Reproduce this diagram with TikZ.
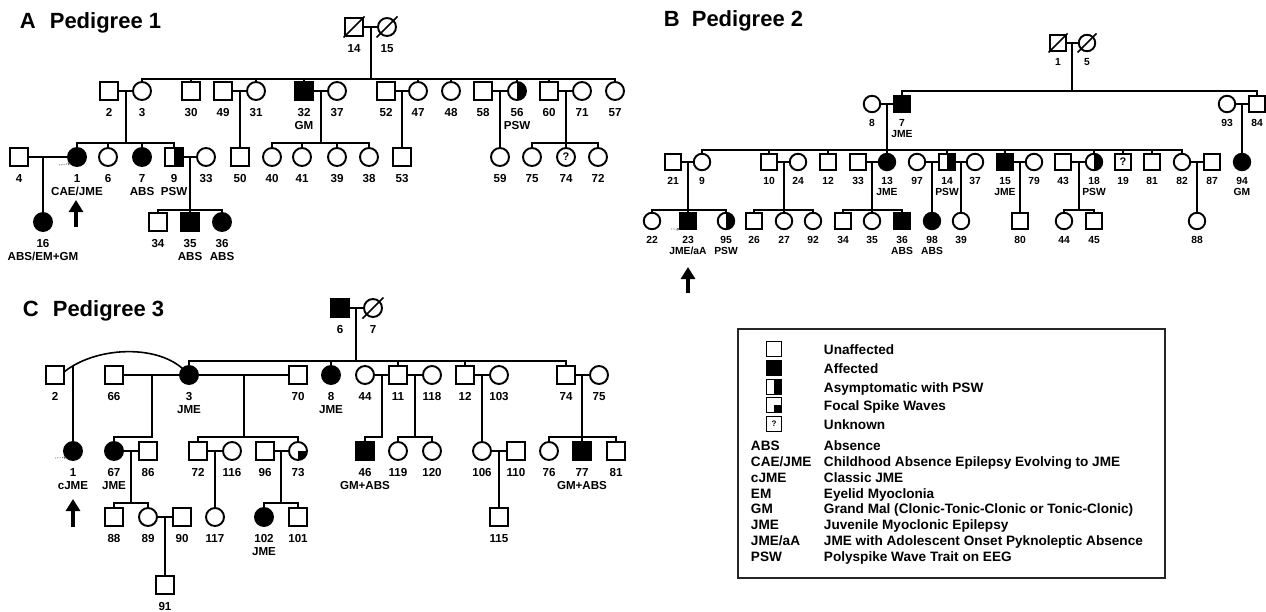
\documentclass[tikz,border=0pt]{standalone}
\usepackage{fontspec}
\setmainfont{Liberation Sans}
\usetikzlibrary{arrows.meta,calc}
\newcommand\symsz{18pt}
\newcommand\labfont{\fontsize{11.6}{13}\selectfont\bfseries}
\begin{document}
\begin{tikzpicture}[x=1pt,y=-1pt,line width=1.9pt,
  ind/.style={draw,line width=1.9pt,minimum size=\symsz,inner sep=0pt,outer sep=0pt,fill=white},
  ma/.style={ind,rectangle},
  fe/.style={ind,circle},
  aff/.style={fill=black},
  halfr/.style={path picture={\fill[black] (path picture bounding box.north) rectangle (path picture bounding box.south east);}},
  qbr/.style={path picture={\fill[black] (path picture bounding box.center) rectangle (path picture bounding box.south east);}},
  lab/.style={font=\labfont,align=center,inner sep=0pt},
  every label/.style={lab},
  dec/.style={line width=1.5pt},
  qm/.style={font=\fontsize{11}{11}\selectfont\bfseries},
  title/.style={anchor=base west,inner sep=0pt,font=\fontsize{22}{22}\selectfont\bfseries},
  prob/.style={line width=3.2pt,-{Triangle[width=14pt,length=12pt]}},
  tinyarr/.style={line width=0.8pt,densely dotted,black!60,-{Stealth[length=3pt,width=3pt]}},
  lsq/.style={ma,minimum size=15pt,line width=1.6pt},
  ltx/.style={anchor=base west,inner sep=0pt,font=\fontsize{13.6}{15}\selectfont\bfseries},
]
\useasboundingbox (0,0) rectangle (1266,611);

%================ PEDIGREE 1 ================
\begin{scope}[label distance=7.5pt]
\node[title] (tA) at (19,28) {A\hspace{14pt}Pedigree 1};
% generation I
\node[ma,label={below:14}] (a14) at (354,27) {};
\node[fe,label={below:15}] (a15) at (387,27) {};
\draw[dec] ([shift={(-10.5,10.5)}]a14.center) -- ([shift={(10.5,-10.5)}]a14.center);
\draw[dec] ([shift={(-10.5,10.5)}]a15.center) -- ([shift={(10.5,-10.5)}]a15.center);
% generation II
\node[ma,label={below:2}] (a2) at (109,91) {};
\node[fe,label={below:3}] (a3) at (142,91) {};
\node[ma,label={below:30}] (a30) at (191,91) {};
\node[ma,label={below:49}] (a49) at (223,91) {};
\node[fe,label={below:31}] (a31) at (256,91) {};
\node[ma,aff,label={below:32\\GM}] (a32) at (304,91) {};
\node[fe,label={below:37}] (a37) at (337,91) {};
\node[ma,label={below:52}] (a52) at (386,91) {};
\node[fe,label={below:47}] (a47) at (418,91) {};
\node[fe,label={below:48}] (a48) at (451,91) {};
\node[ma,label={below:58}] (a58) at (483,91) {};
\node[fe,halfr,label={below:56\\PSW}] (a56) at (517,91) {};
\node[ma,label={below:60}] (a60) at (549,91) {};
\node[fe,label={below:71}] (a71) at (582,91) {};
\node[fe,label={below:57}] (a57) at (615,91) {};
% generation III
\node[ma,label={below:4}] (a4) at (19,157) {};
\node[fe,aff,label={below:1\\CAE/JME}] (a1) at (77,157) {};
\node[fe,label={below:6}] (a6) at (108,157) {};
\node[fe,aff,label={below:7\\ABS}] (a7) at (142,157) {};
\node[ma,halfr,label={below:9\\PSW}] (a9) at (174,157) {};
\node[fe,label={below:33}] (a33) at (206,157) {};
\node[ma,label={below:50}] (a50) at (240,157) {};
\node[fe,label={below:40}] (a40) at (272,157) {};
\node[fe,label={below:41}] (a41) at (302,157) {};
\node[fe,label={below:39}] (a39) at (337,157) {};
\node[fe,label={below:38}] (a38) at (369,157) {};
\node[ma,label={below:53}] (a53) at (402,157) {};
\node[fe,label={below:59}] (a59) at (500,157) {};
\node[fe,label={below:75}] (a75) at (532,157) {};
\node[fe,qm,label={below:74}] (a74) at (566,157) {?};
\node[fe,label={below:72}] (a72) at (598,157) {};
% generation IV
\node[fe,aff,label={below:16\\ABS/EM+GM}] (a16) at (43,222) {};
\node[ma,label={below:34}] (a34) at (158,222) {};
\node[ma,aff,label={below:35\\ABS}] (a35) at (190,222) {};
\node[fe,aff,label={below:36\\ABS}] (a36) at (222,222) {};
% connectors
\draw (a14) -- (a15);
\coordinate (am1) at (371,27);
\coordinate (as1) at (371,79);
\draw (am1) -- (as1);
\draw (a3.north) |- (as1) -| (a57.north);
\foreach \n in {30,31,32,47,48,56,60} \draw (a\n.north) -- (a\n.north |- as1);
\draw (a2) -- (a3);
\coordinate (am2) at (126,91);
\coordinate (as2) at (126,143);
\draw (am2) -- (as2);
\draw (a1.north) |- (as2) -| (a9.north);
\foreach \n in {6,7} \draw (a\n.north) -- (a\n.north |- as2);
\draw (a49) -- (a31);
\draw (a50.north |- a49) -- (a50.north);
\draw (a32) -- (a37);
\coordinate (am3) at (321,91);
\coordinate (as3) at (321,143);
\draw (am3) -- (as3);
\draw (a40.north) |- (as3) -| (a38.north);
\foreach \n in {41,39} \draw (a\n.north) -- (a\n.north |- as3);
\draw (a52) -- (a47);
\draw (a53.north |- a52) -- (a53.north);
\draw (a58) -- (a56);
\draw (a59.north |- a58) -- (a59.north);
\draw (a60) -- (a71);
\coordinate (as4) at (566,143);
\draw (a74.north |- a60) -- (a74.north);
\draw (a75.north) |- (as4) -| (a72.north);
\draw (a4) -- (a1);
\coordinate (am5) at (43,157);
\draw (am5) -- (a16.north);
\draw (a9) -- (a33);
\coordinate (as5) at (190,210);
\draw (a35.north |- a9) -- (a35.north);
\draw (a34.north) |- (as5) -| (a36.north);
% proband
\coordinate (pA0) at (76,227);
\coordinate (pA1) at (76,200);
\draw[prob] (pA0) -- (pA1);
\coordinate (qA) at (59,165);
\draw[tinyarr] (qA) -- (a1.south west);
\end{scope}

%================ PEDIGREE 2 ================
\begin{scope}[label distance=6pt]
\renewcommand\symsz{16.5pt}
\renewcommand\labfont{\fontsize{10.3}{11}\selectfont\bfseries}
\node[title] (tB) at (663,26) {B\hspace{12pt}Pedigree 2};
% generation I
\node[ma,label={below:1}] (b1) at (1058,43) {};
\node[fe,label={below:5}] (b5) at (1087,43) {};
\draw[dec] ([shift={(-9.5,9.5)}]b1.center) -- ([shift={(9.5,-9.5)}]b1.center);
\draw[dec] ([shift={(-9.5,9.5)}]b5.center) -- ([shift={(9.5,-9.5)}]b5.center);
% generation II
\node[fe,label={below:8}] (b8) at (872,104) {};
\node[ma,aff,label={below:7\\JME}] (b7) at (902,104) {};
\node[fe,label={below:93}] (b93) at (1227,104) {};
\node[ma,label={below:84}] (b84) at (1257,104) {};
% generation III
\node[ma,label={below:21}] (b21) at (673,162) {};
\node[fe,label={below:9}] (b9) at (702,162) {};
\node[ma,label={below:10}] (b10) at (769,162) {};
\node[fe,label={below:24}] (b24) at (798,162) {};
\node[ma,label={below:12}] (b12) at (828,162) {};
\node[ma,label={below:33}] (b33) at (858,162) {};
\node[fe,aff,label={below:13\\JME}] (b13) at (887,162) {};
\node[fe,label={below:97}] (b97) at (917,162) {};
\node[ma,halfr,label={below:14\\PSW}] (b14) at (947,162) {};
\node[fe,label={below:37}] (b37) at (975,162) {};
\node[ma,aff,label={below:15\\JME}] (b15) at (1005,162) {};
\node[fe,label={below:79}] (b79) at (1034,162) {};
\node[ma,label={below:43}] (b43) at (1063,162) {};
\node[fe,halfr,label={below:18\\PSW}] (b18) at (1094,162) {};
\node[ma,qm,label={below:19}] (b19) at (1123,162) {?};
\node[ma,label={below:81}] (b81) at (1152,162) {};
\node[fe,label={below:82}] (b82) at (1182,162) {};
\node[ma,label={below:87}] (b87) at (1212,162) {};
\node[fe,aff,label={below:94\\GM}] (b94) at (1242,162) {};
% generation IV
\node[fe,label={below:22}] (b22) at (652,221) {};
\node[ma,aff,label={below:23\\JME/aA}] (b23) at (688,221) {};
\node[fe,halfr,label={below:95\\PSW}] (b95) at (726,221) {};
\node[ma,label={below:26}] (b26) at (754,221) {};
\node[fe,label={below:27}] (b27) at (784,221) {};
\node[fe,label={below:92}] (b92) at (813,221) {};
\node[ma,label={below:34}] (b34) at (843,221) {};
\node[fe,label={below:35}] (b35) at (872,221) {};
\node[ma,aff,label={below:36\\ABS}] (b36) at (902,221) {};
\node[fe,aff,label={below:98\\ABS}] (b98) at (932,221) {};
\node[fe,label={below:39}] (b39) at (961,221) {};
\node[ma,label={below:80}] (b80) at (1020,221) {};
\node[fe,label={below:44}] (b44) at (1064,221) {};
\node[ma,label={below:45}] (b45) at (1094,221) {};
\node[fe,label={below:88}] (b88) at (1197,221) {};
% connectors
\draw (b1) -- (b5);
\coordinate (bm1) at (1072,43);
\coordinate (bs1) at (1072,91);
\draw (bm1) -- (bs1);
\draw (b7.north) |- (bs1) -| (b84.north);
\draw (b8) -- (b7);
\coordinate (bs2) at (887,150);
\draw (b13.north |- b8) -- (b13.north);
\draw (b9.north) |- (bs2) -| (b82.north);
\foreach \n in {10,12,14,15,18,19,81} \draw (b\n.north) -- (b\n.north |- bs2);
\draw (b93) -- (b84);
\draw (b94.north |- b93) -- (b94.north);
\draw (b21) -- (b9);
\coordinate (bs3) at (688,210);
\draw (b23.north |- b21) -- (b23.north);
\draw (b22.north) |- (bs3) -| (b95.north);
\draw (b10) -- (b24);
\coordinate (bs4) at (784,210);
\draw (b27.north |- b10) -- (b27.north);
\draw (b26.north) |- (bs4) -| (b92.north);
\draw (b33) -- (b13);
\coordinate (bs5) at (872,210);
\draw (b35.north |- b33) -- (b35.north);
\draw (b34.north) |- (bs5) -| (b36.north);
\draw (b97) -- (b14);
\draw (b98.north |- b97) -- (b98.north);
\draw (b14) -- (b37);
\draw (b39.north |- b14) -- (b39.north);
\draw (b15) -- (b79);
\draw (b80.north |- b15) -- (b80.north);
\draw (b43) -- (b18);
\coordinate (bm6) at (1079,162);
\coordinate (bs6) at (1079,210);
\draw (bm6) -- (bs6);
\draw (b44.north) |- (bs6) -| (b45.north);
\draw (b82) -- (b87);
\draw (b88.north |- b82) -- (b88.north);
% proband
\coordinate (pB0) at (688,293);
\coordinate (pB1) at (688,267);
\draw[prob] (pB0) -- (pB1);
\coordinate (qB) at (671,229);
\draw[tinyarr] (qB) -- (b23.south west);
\end{scope}

%================ PEDIGREE 3 ================
\begin{scope}[label distance=7.5pt]
\node[title] (tC) at (22,316) {C\hspace{14pt}Pedigree 3};
% generation I
\node[ma,aff,label={below:6}] (c6) at (340,308) {};
\node[fe,label={below:7}] (c7) at (373,308) {};
\draw[dec] ([shift={(-10.5,10.5)}]c7.center) -- ([shift={(10.5,-10.5)}]c7.center);
% generation II
\node[ma,label={below:2}] (c2) at (55,375) {};
\node[ma,label={below:66}] (c66) at (114,375) {};
\node[fe,aff,label={below:3\\JME}] (c3) at (189,375) {};
\node[ma,label={below:70}] (c70) at (298,375) {};
\node[fe,aff,label={below:8\\JME}] (c8) at (331,375) {};
\node[fe,label={below:44}] (c44) at (365,375) {};
\node[ma,label={below:11}] (c11) at (398,375) {};
\node[fe,label={below:118}] (c118) at (432,375) {};
\node[ma,label={below:12}] (c12) at (465,375) {};
\node[fe,label={below:103}] (c103) at (499,375) {};
\node[ma,label={below:74}] (c74) at (566,375) {};
\node[fe,label={below:75}] (c75) at (599,375) {};
% generation III
\node[fe,aff,label={below:1\\cJME}] (c1) at (73,451) {};
\node[fe,aff,label={below:67\\JME}] (c67) at (114,451) {};
\node[ma,label={below:86}] (c86) at (148,451) {};
\node[ma,label={below:72}] (c72) at (198,451) {};
\node[fe,label={below:116}] (c116) at (232,451) {};
\node[ma,label={below:96}] (c96) at (265,451) {};
\node[fe,qbr,label={below:73}] (c73) at (298,451) {};
\node[ma,aff,label={below:46\\GM+ABS}] (c46) at (365,451) {};
\node[fe,label={below:119}] (c119) at (398,451) {};
\node[fe,label={below:120}] (c120) at (432,451) {};
\node[fe,label={below:106}] (c106) at (482,451) {};
\node[ma,label={below:110}] (c110) at (516,451) {};
\node[fe,label={below:76}] (c76) at (549,451) {};
\node[ma,aff,label={below:77\\GM+ABS}] (c77) at (582,451) {};
\node[ma,label={below:81}] (c81) at (616,451) {};
% generation IV
\node[ma,label={below:88}] (c88) at (114,517) {};
\node[fe,label={below:89}] (c89) at (148,517) {};
\node[ma,label={below:90}] (c90) at (182,517) {};
\node[fe,label={below:117}] (c117) at (215,517) {};
\node[fe,aff,label={below:102\\JME}] (c102) at (264,517) {};
\node[ma,label={below:101}] (c101) at (298,517) {};
\node[ma,label={below:115}] (c115) at (499,517) {};
% generation V
\node[ma,label={below:91}] (c91) at (165,585) {};
% connectors
\draw (c6) -- (c7);
\coordinate (cm1) at (356,308);
\coordinate (cs1) at (356,361);
\draw (cm1) -- (cs1);
\draw (c3.north) |- (cs1) -| (c74.north);
\foreach \n in {8,11,12} \draw (c\n.north) -- (c\n.north |- cs1);
\draw[line width=1.6pt] ([yshift=3pt]c2.east) .. controls (95,347) and (155,344) .. coordinate[pos=0.09] (ck) (c3.north west);
\draw (ck) -- (ck |- c1.north);
\draw (c66) -- (c3);
\coordinate (cm2) at (152,375);
\coordinate (cs2) at (152,437);
\draw (cm2) -- (cs2) -| (c67.north);
\draw (c3) -- (c70);
\coordinate (cm3) at (244,375);
\coordinate (cs3) at (244,437);
\draw (cm3) -- (cs3);
\draw (c72.north) |- (cs3) -| (c73.north);
\draw (c44) -- (c11);
\coordinate (cm4) at (382,375);
\coordinate (cs4) at (382,437);
\draw (cm4) -- (cs4) -| (c46.north);
\draw (c11) -- (c118);
\coordinate (cm5) at (415,375);
\coordinate (cs5) at (415,437);
\draw (cm5) -- (cs5);
\draw (c119.north) |- (cs5) -| (c120.north);
\draw (c12) -- (c103);
\draw (c106.north |- c12) -- (c106.north);
\draw (c74) -- (c75);
\coordinate (cs6) at (582,437);
\draw (c77.north |- c74) -- (c77.north);
\draw (c76.north) |- (cs6) -| (c81.north);
\draw (c67) -- (c86);
\coordinate (cm7) at (131,451);
\coordinate (cs7) at (131,503);
\draw (cm7) -- (cs7);
\draw (c88.north) |- (cs7) -| (c89.north);
\draw (c89) -- (c90);
\draw (c91.north |- c89) -- (c91.north);
\draw (c72) -- (c116);
\draw (c117.north |- c72) -- (c117.north);
\draw (c96) -- (c73);
\coordinate (cm8) at (281,451);
\coordinate (cs8) at (281,503);
\draw (cm8) -- (cs8);
\draw (c102.north) |- (cs8) -| (c101.north);
\draw (c106) -- (c110);
\draw (c115.north |- c106) -- (c115.north);
% proband
\coordinate (pC0) at (73,527);
\coordinate (pC1) at (73,499);
\draw[prob] (pC0) -- (pC1);
\coordinate (qC) at (55,458);
\draw[tinyarr] (qC) -- (c1.south west);
\end{scope}

%================ LEGEND ================
\node[draw=black!85,line width=1.5pt,minimum width=427pt,minimum height=249pt,inner sep=0pt] (leg) at (951.5,453.5) {};
\node[lsq] (l1) at (774,349) {};
\node[lsq,aff] (l2) at (774,368) {};
\node[lsq,halfr] (l3) at (774,387) {};
\node[lsq,qbr] (l4) at (774,405) {};
\node[lsq,font=\fontsize{8}{8}\selectfont\bfseries] (l5) at (774,424) {?};
\node[ltx] (t1) at (823,354) {Unaffected};
\node[ltx] (t2) at (823,373) {Affected};
\node[ltx] (t3) at (823,392) {Asymptomatic with PSW};
\node[ltx] (t4) at (823,410) {Focal Spike Waves};
\node[ltx] (t5) at (823,429) {Unknown};
\node[ltx] (k1) at (750,450) {ABS};
\node[ltx] (d1) at (823,450) {Absence};
\node[ltx] (k2) at (750,466) {CAE/JME};
\node[ltx] (d2) at (823,466) {Childhood Absence Epilepsy Evolving to JME};
\node[ltx] (k3) at (750,482) {cJME};
\node[ltx] (d3) at (823,482) {Classic JME};
\node[ltx] (k4) at (750,498) {EM};
\node[ltx] (d4) at (823,498) {Eyelid Myoclonia};
\node[ltx] (k5) at (750,513) {GM};
\node[ltx] (d5) at (823,513) {Grand Mal (Clonic-Tonic-Clonic or Tonic-Clonic)};
\node[ltx] (k6) at (750,529) {JME};
\node[ltx] (d6) at (823,529) {Juvenile Myoclonic Epilepsy};
\node[ltx] (k7) at (750,545) {JME/aA};
\node[ltx] (d7) at (823,545) {JME with Adolescent Onset Pyknoleptic Absence};
\node[ltx] (k8) at (750,561) {PSW};
\node[ltx] (d8) at (823,561) {Polyspike Wave Trait on EEG};
\end{tikzpicture}
\end{document}
